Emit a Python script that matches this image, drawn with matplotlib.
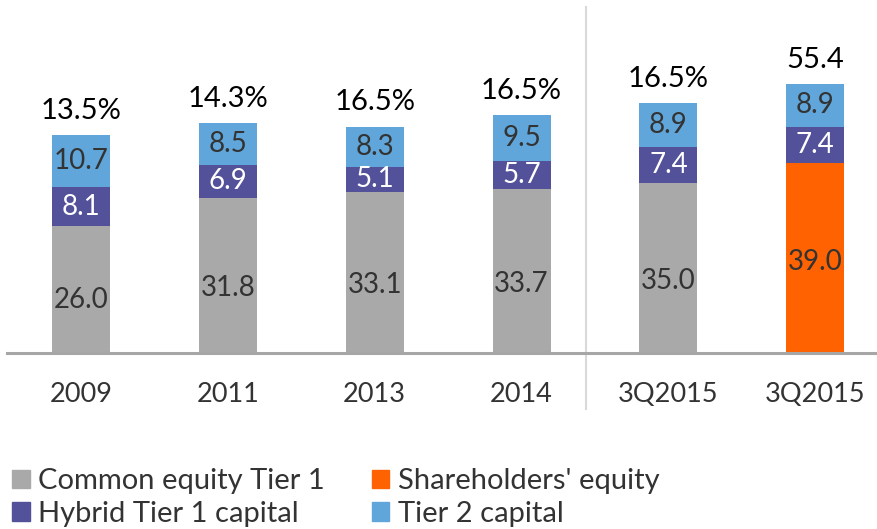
import matplotlib
matplotlib.use("Agg")
import matplotlib.pyplot as plt
import numpy as np
from matplotlib.patches import Patch

plt.rcParams["font.family"] = ["Lato", "DejaVu Sans"]

# data
periods = ["2009", "2011", "2013", "2014", "3Q2015", "3Q2015"]
common_equity = [26.0, 31.8, 33.1, 33.7, 35.0, 0.0]
shareholders_equity = [0.0, 0.0, 0.0, 0.0, 0.0, 39.0]
hybrid_tier1 = [8.1, 6.9, 5.1, 5.7, 7.4, 7.4]
tier2 = [10.7, 8.5, 8.3, 9.5, 8.9, 8.9]
top_labels = ["13.5%", "14.3%", "16.5%", "16.5%", "16.5%", "55.4"]

GREY = "#a9a9a9"
ORANGE = "#ff6200"
PURPLE = "#525199"
BLUE = "#60a6da"
TXT = "#333333"

fig = plt.figure(figsize=(8.77, 5.29), dpi=100)
ax = fig.add_axes([0.008, 0.3327, 0.992, 0.6673])

x = np.arange(len(periods))
w = 0.395
base = np.array(common_equity) + np.array(shareholders_equity)

ax.bar(x, common_equity, w, color=GREY)
ax.bar(x, shareholders_equity, w, color=ORANGE)
ax.bar(x, hybrid_tier1, w, bottom=base, color=PURPLE)
ax.bar(x, tier2, w, bottom=base + np.array(hybrid_tier1), color=BLUE)

fs = 20
for i in range(len(x)):
    if common_equity[i] > 0:
        ax.text(x[i], common_equity[i] * 0.42, f"{common_equity[i]:.1f}",
                ha="center", va="center", fontsize=fs, color=TXT)
    if shareholders_equity[i] > 0:
        ax.text(x[i], shareholders_equity[i] * 0.48, f"{shareholders_equity[i]:.1f}",
                ha="center", va="center", fontsize=fs, color=TXT)
    ax.text(x[i], base[i] + hybrid_tier1[i] / 2, f"{hybrid_tier1[i]:.1f}",
            ha="center", va="center", fontsize=fs, color="white")
    top = base[i] + hybrid_tier1[i]
    ax.text(x[i], top + tier2[i] / 2, f"{tier2[i]:.1f}",
            ha="center", va="center", fontsize=fs, color=TXT)
    ax.annotate(top_labels[i], (x[i], top + tier2[i]), xytext=(0, 8),
                textcoords="offset points", ha="center", va="bottom",
                fontsize=21, color="black")

ax.set_xlim(-0.504, 5.42)
ax.set_ylim(0, 72.5)
ax.set_xticks(x)
ax.set_xticklabels(periods, fontsize=19.5, color=TXT)
ax.tick_params(axis="x", length=0, pad=21)
ax.set_yticks([])
for s in ["top", "left", "right"]:
    ax.spines[s].set_visible(False)
ax.spines["bottom"].set_color("#a6a6a6")
ax.spines["bottom"].set_linewidth(2.2)

# separator between annual and quarterly figures
ax.axvline(3.44, ymin=-0.16, ymax=0.98, color="#d9d9d9", lw=1.5, clip_on=False)

handles = [
    Patch(color=GREY, label="Common equity Tier 1"),
    Patch(color=PURPLE, label="Hybrid Tier 1 capital"),
    Patch(color=ORANGE, label="Shareholders' equity"),
    Patch(color=BLUE, label="Tier 2 capital"),
]
fig.legend(handles=handles, loc="lower left", bbox_to_anchor=(-0.016, -0.045),
           ncol=2, frameon=False, fontsize=21, handlelength=0.6,
           handleheight=0.6, handletextpad=0.3, columnspacing=1.6,
           labelspacing=0.22, labelcolor=TXT)

fig.savefig("out.png", dpi=100)
